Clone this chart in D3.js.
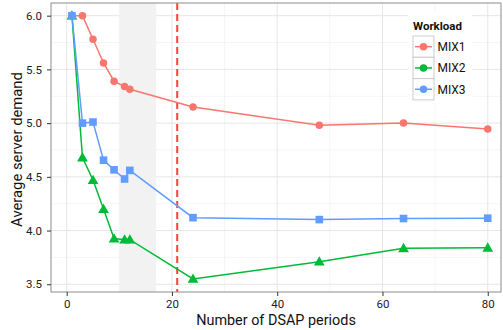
<!DOCTYPE html>
<html>
<head>
<meta charset="utf-8">
<script src="https://cdn.jsdelivr.net/npm/d3@7"></script>
<style>
  html, body { margin: 0; padding: 0; background: #fff; }
  svg { display: block; font-family: Roboto, "Noto Sans", sans-serif; }
</style>
</head>
<body>
<svg id="chart" width="503" height="330"></svg>
<script>
// Number of DSAP periods at which each workload was measured
const periods = [1, 3, 5, 7, 9, 11, 12, 24, 48, 64, 80];

// Average server demand per workload
const mix1 = [6.0, 6.0, 5.78, 5.56, 5.39, 5.34, 5.315, 5.15, 4.98, 5.0, 4.945];
const mix2 = [6.0, 4.68, 4.47, 4.2, 3.925, 3.915, 3.915, 3.55, 3.71, 3.835, 3.84];
const mix3 = [6.0, 5.0, 5.01, 4.655, 4.565, 4.48, 4.56, 4.12, 4.102, 4.112, 4.115];

const seriesNames = ["MIX1", "MIX2", "MIX3"];
const seriesColors = ["#F8766D", "#00BA38", "#619CFF"];
const seriesShapes = ["circle", "triangle", "square"];

const xTicks = [0, 20, 40, 60, 80];
const xMinor = [10, 30, 50, 70];
const yTicks = [3.5, 4.0, 4.5, 5.0, 5.5, 6.0];
const yMinor = [3.75, 4.25, 4.75, 5.25, 5.75];

// Shaded window and reference period
const band = [10, 17];
const refPeriod = 21;

const svg = d3.select("#chart");
const W = 503, H = 330;
const margin = { left: 51, top: 3, right: 2, bottom: 38 };
const pw = W - margin.left - margin.right;
const ph = H - margin.top - margin.bottom;

const x = d3.scaleLinear().domain([-2.98, 82.52]).range([0, pw]);
const y = d3.scaleLinear().domain([3.428, 6.118]).range([ph, 0]);

const g = svg.append("g").attr("transform", `translate(${margin.left},${margin.top})`);

// panel background
g.append("rect").attr("width", pw).attr("height", ph).attr("fill", "#fff");

// minor grid
g.selectAll(".xminor").data(xMinor).enter().append("line")
  .attr("x1", d => x(d)).attr("x2", d => x(d)).attr("y1", 0).attr("y2", ph)
  .attr("stroke", "#f2f2f2").attr("stroke-width", 0.8);
g.selectAll(".yminor").data(yMinor).enter().append("line")
  .attr("y1", d => y(d)).attr("y2", d => y(d)).attr("x1", 0).attr("x2", pw)
  .attr("stroke", "#f2f2f2").attr("stroke-width", 0.8);

// major grid
g.selectAll(".xmajor").data(xTicks).enter().append("line")
  .attr("x1", d => x(d)).attr("x2", d => x(d)).attr("y1", 0).attr("y2", ph)
  .attr("stroke", "#e6e6e6").attr("stroke-width", 1);
g.selectAll(".ymajor").data(yTicks).enter().append("line")
  .attr("y1", d => y(d)).attr("y2", d => y(d)).attr("x1", 0).attr("x2", pw)
  .attr("stroke", "#e6e6e6").attr("stroke-width", 1);

// shaded window
g.append("rect")
  .attr("x", x(band[0])).attr("width", x(band[1]) - x(band[0]))
  .attr("y", 0).attr("height", ph)
  .attr("fill", "#f2f2f2");

// reference line
g.append("line")
  .attr("x1", x(refPeriod)).attr("x2", x(refPeriod))
  .attr("y1", 0).attr("y2", ph)
  .attr("stroke", "#ff4040").attr("stroke-width", 2)
  .attr("stroke-dasharray", "7,4");

const allSeries = [mix1, mix2, mix3].map((vals, i) => ({
  name: seriesNames[i], color: seriesColors[i], shape: seriesShapes[i],
  pts: periods.map((p, j) => ({ p, v: vals[j] }))
}));

const line = d3.line().x(d => x(d.p)).y(d => y(d.v));

// lines first, then markers
allSeries.forEach(s => {
  g.append("path").datum(s.pts)
    .attr("d", line).attr("fill", "none")
    .attr("stroke", s.color).attr("stroke-width", 1.5);
});

const symbolFor = {
  circle: d3.symbol().type(d3.symbolCircle).size(44),
  triangle: d3.symbol().type(d3.symbolTriangle).size(50),
  square: d3.symbol().type(d3.symbolSquare).size(58)
};

allSeries.forEach(s => {
  g.selectAll(null).data(s.pts).enter().append("path")
    .attr("d", symbolFor[s.shape]())
    .attr("transform", d => `translate(${x(d.p)},${y(d.v) + (s.shape === "triangle" ? 0.8 : 0)})`)
    .attr("fill", s.color);
});

// panel border
g.append("rect").attr("width", pw).attr("height", ph)
  .attr("fill", "none").attr("stroke", "#8c8c8c").attr("stroke-width", 1);

// axes
const xAxis = g.append("g").attr("transform", `translate(0,${ph})`)
  .call(d3.axisBottom(x).tickValues(xTicks).tickFormat(d3.format("d")).tickSize(4).tickPadding(4));
const yAxis = g.append("g")
  .call(d3.axisLeft(y).tickValues(yTicks).tickFormat(d3.format(".1f")).tickSize(4).tickPadding(5));

[xAxis, yAxis].forEach(a => {
  a.select(".domain").remove();
  a.selectAll(".tick line").attr("stroke", "#333");
  a.selectAll(".tick text").attr("fill", "#222").style("font-size", "11.5px")
    .style("font-family", "Roboto, 'Noto Sans', sans-serif");
});

// axis titles
svg.append("text")
  .attr("x", margin.left + pw / 2).attr("y", 325)
  .attr("text-anchor", "middle")
  .style("font-size", "14.4px").attr("fill", "#111")
  .text("Number of DSAP periods");

svg.append("text")
  .attr("transform", `translate(22,${margin.top + ph / 2 + 2}) rotate(-90)`)
  .attr("text-anchor", "middle")
  .style("font-size", "14.8px").attr("fill", "#111")
  .text("Average server demand");

// legend
const lg = svg.append("g").attr("transform", "translate(408,12)");
lg.append("rect").attr("x", 0).attr("y", 0).attr("width", 64).attr("height", 91).attr("fill", "#fff");
lg.append("text").attr("x", 5).attr("y", 17.5)
  .style("font-size", "11.5px").style("font-weight", "bold").attr("fill", "#111")
  .text("Workload");

const keyH = 21.3;
allSeries.forEach((s, i) => {
  const ky = 24 + i * keyH;
  const k = lg.append("g").attr("transform", `translate(5,${ky})`);
  k.append("rect").attr("width", 21).attr("height", keyH)
    .attr("fill", "#fff").attr("stroke", "#cccccc").attr("stroke-width", 1);
  k.append("line").attr("x1", 2).attr("x2", 19).attr("y1", keyH / 2).attr("y2", keyH / 2)
    .attr("stroke", s.color).attr("stroke-width", 1.5);
  k.append("path").attr("d", symbolFor.circle())
    .attr("transform", `translate(10.5,${keyH / 2})`).attr("fill", s.color);
  lg.append("text").attr("x", 29.5).attr("y", ky + keyH / 2 + 4.3)
    .style("font-size", "12px").attr("fill", "#111")
    .text(s.name);
});
</script>
</body>
</html>
